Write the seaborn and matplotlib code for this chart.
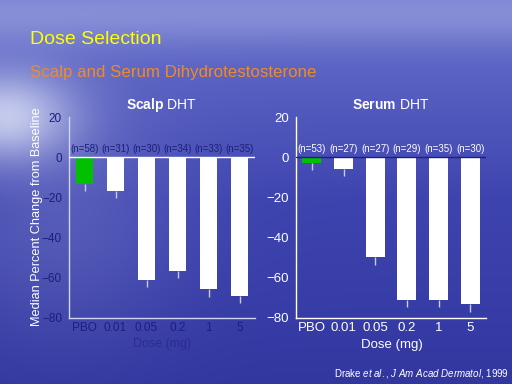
import numpy as np
import pandas as pd
import seaborn as sns
import matplotlib.pyplot as plt

# Data
doses = ["PBO", "0.01", "0.05", "0.2", "1", "5"]
scalp_n = [58, 31, 30, 34, 33, 35]
scalp_median = [-13.5, -17, -61, -56.5, -65.5, -69]
scalp_low = [-17, -20.5, -64.5, -60, -69.5, -72.5]
serum_n = [53, 27, 27, 29, 35, 30]
serum_median = [-3, -6, -49.5, -71, -71, -72.8]
serum_low = [-6.5, -9.5, -53.5, -74.5, -74.5, -77]

bar_colors = ["#00c000"] + ["#ffffff"] * 5
NAVY = "#1e1e7c"
FONT = "Liberation Sans"

sns.set_theme(style="white")
plt.rcParams["font.family"] = [FONT, "DejaVu Sans"]
plt.rcParams["mathtext.fontset"] = "custom"
plt.rcParams["mathtext.rm"] = FONT
plt.rcParams["mathtext.bf"] = FONT + ":bold"
plt.rcParams["mathtext.it"] = FONT + ":italic"


def make_background(h=384, w=512):
    # slide backdrop: blue sky / sea with a light glow on the left
    yy, xx = np.mgrid[0:h, 0:w].astype(float)
    top = np.array([105, 115, 205]) / 255
    mid = np.array([62, 68, 175]) / 255
    bot = np.array([50, 55, 160]) / 255
    t = np.clip(yy / 200, 0, 1)[..., None]
    base = top * (1 - t) + mid * t
    t2 = np.clip((yy - 200) / 184, 0, 1)[..., None]
    base = base * (1 - t2) + bot * t2
    glow = 0.75 * np.exp(-((xx - 5) / 70) ** 2 - ((yy - 115) / 45) ** 2)
    glow += 0.25 * np.exp(-((yy - 15) / 30) ** 2)
    glow += 0.15 * np.exp(-((xx - 60) / 120) ** 2 - ((yy - 220) / 120) ** 2)
    glow = np.clip(glow, 0, 0.85)[..., None]
    white = np.array([0.88, 0.9, 0.97])
    return base * (1 - glow) + white * glow


def draw_panel(ax, median, low, n, width, tick_color, tick_size, zero_color, spine_color):
    df = pd.DataFrame({"dose": doses, "median": median})
    sns.barplot(data=df, x="dose", y="median", hue="dose", order=doses,
                palette=bar_colors, legend=False, width=width, saturation=1,
                linewidth=0, edgecolor="none", ax=ax)
    x = np.arange(len(doses))
    err = np.array(median) - np.array(low)
    # one-sided bars, pointing away from zero
    ax.errorbar(x, median, yerr=[err, np.zeros(len(x))], fmt="none",
                ecolor="#c8cce0", elinewidth=1, capsize=0)
    ax.axhline(0, color=zero_color, lw=1, zorder=3)
    for i, cnt in enumerate(n):
        ax.text(i, 1.5, f"(n={cnt})", ha="center", va="bottom",
                fontsize=7, color=tick_color)
    ax.set_ylim(-80, 20)
    ax.set_xlim(-0.5, len(doses) - 0.5)
    ax.set_yticks([20, 0, -20, -40, -60, -80])
    ax.set_facecolor("none")
    ax.set_xlabel("")
    ax.set_ylabel("")
    sns.despine(ax=ax)
    for s in ["left", "bottom"]:
        ax.spines[s].set_color(spine_color)
        ax.spines[s].set_linewidth(1)
    ax.tick_params(axis="both", length=0, labelsize=tick_size,
                   colors=tick_color)
    ax.tick_params(axis="y", pad=5)
    ax.tick_params(axis="x", pad=3)


fig = plt.figure(figsize=(5.12, 3.84), dpi=100)
bg = fig.add_axes([0, 0, 1, 1])
bg.imshow(make_background(), aspect="auto")
bg.axis("off")

ax1 = fig.add_axes([69 / 512, 1 - 318 / 384, 186 / 512, 201 / 384])
draw_panel(ax1, scalp_median, scalp_low, scalp_n, 0.58, NAVY, 8.5,
           "#ffffff", "#d0d6f2")
ax2 = fig.add_axes([296 / 512, 1 - 318 / 384, 190 / 512, 201 / 384])
draw_panel(ax2, serum_median, serum_low, serum_n, 0.6, "#ffffff", 9.5,
           NAVY, "#ffffff")

ax1.set_title(r"$\mathbf{Scalp}$ DHT", color="white", fontsize=10, pad=6)
ax2.set_title(r"$\mathbf{Serum}$ DHT", color="white", fontsize=10, pad=6)

fig.text(162 / 512, 1 - 344 / 384, "Dose (mg)", ha="center", va="center",
         fontsize=9, color="#2a2c92")
fig.text(392 / 512, 1 - 345 / 384, "Dose (mg)", ha="center", va="center",
         fontsize=9.5, color="white")
fig.text(37 / 512, 1 - 217 / 384, "Median Percent Change from Baseline",
         rotation=90, ha="center", va="center", fontsize=9.2, color="white")

fig.text(30 / 512, 1 - 44 / 384, "Dose Selection", fontsize=14,
         color="#ffff00", va="baseline")
fig.text(30 / 512, 1 - 77 / 384, "Scalp and Serum Dihydrotestosterone",
         fontsize=12.2, color="#f08a28", va="baseline")
fig.text(509 / 512, 1 - 376 / 384,
         r"Drake $\mathit{et\ al.}$, $\mathit{J\ Am\ Acad\ Dermatol}$, 1999",
         fontsize=7, color="white", va="baseline", ha="right")

fig.savefig("out.png", dpi=100)
